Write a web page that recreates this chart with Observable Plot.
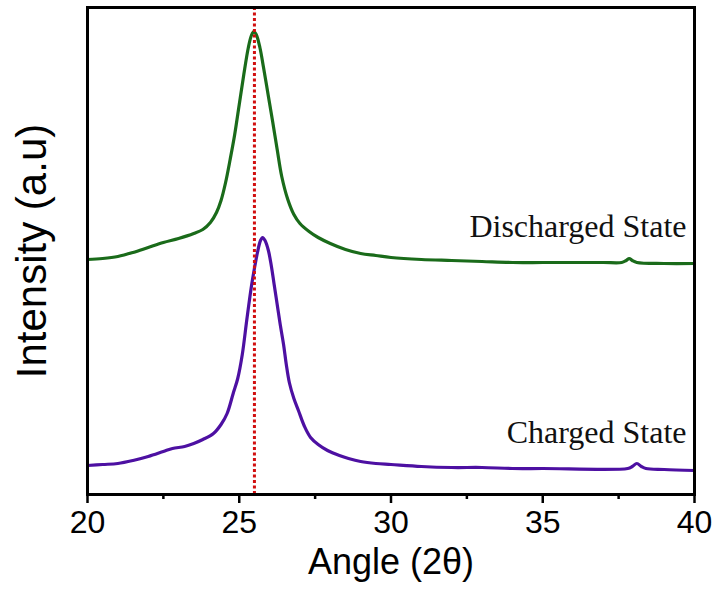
<!DOCTYPE html>
<html>
<head>
<meta charset="utf-8">
<script src="https://cdn.jsdelivr.net/npm/d3@7"></script>
<script src="https://cdn.jsdelivr.net/npm/@observablehq/plot@0.6"></script>
<style>
  html, body { margin: 0; padding: 0; background: #fff; }
  #chart svg { display: block; }
</style>
</head>
<body>
<div id="chart"></div>
<script>
// Discharged state (green), arbitrary intensity units
const dischargedAngle = [20, 20.5, 21, 21.5, 22, 22.5, 23, 23.5, 23.8, 24.05, 24.25, 24.4, 24.55, 24.7, 24.85, 25.0, 25.15, 25.3, 25.4, 25.48, 25.56, 25.68, 25.8, 25.95, 26.1, 26.25, 26.4, 26.6, 26.8, 27.0, 27.3, 27.6, 28.0, 28.5, 29.0, 29.5, 30, 31, 32, 33, 34, 35, 36, 37, 37.6, 37.75, 37.85, 37.95, 38.1, 39, 40];
const dischargedIntensity = [235, 236, 238, 242, 247, 252, 256, 261, 265, 272, 282, 294, 312, 335, 360, 390, 420, 447, 459, 463, 460, 447, 427, 400, 373, 345, 318, 295, 280, 271, 263, 257, 251, 245, 241, 239, 237, 235, 234, 233, 232, 232, 232, 232, 232, 234, 236, 234, 232, 231, 231];

// Charged state (purple)
const chargedAngle = [20, 20.5, 21, 21.5, 22, 22.5, 22.8, 23.2, 23.5, 23.8, 24.15, 24.4, 24.6, 24.8, 24.95, 25.1, 25.25, 25.4, 25.5, 25.6, 25.7, 25.77, 25.85, 25.96, 26.06, 26.15, 26.25, 26.35, 26.46, 26.55, 26.65, 26.8, 26.95, 27.15, 27.35, 27.6, 27.91, 28.3, 28.6, 29.0, 29.5, 30, 31, 32, 33, 34, 35, 37.8, 37.95, 38.1, 38.25, 38.4, 39, 40];
const chargedIntensity = [29, 30, 31, 34, 38, 43, 46, 48, 51, 55, 61, 70, 81, 101, 116, 140, 175, 208, 226, 242, 254, 257, 254, 244, 228, 210, 190, 170, 150, 130, 112, 96, 84, 68, 57, 50, 44, 39, 36, 33, 31, 30, 28, 27, 27, 26, 26, 26, 28, 31, 28, 26, 25, 24];

const referenceAngle = [25.5];
const majorTicks = [20, 25, 30, 35, 40];
const minorTicks = [22.5, 27.5, 32.5, 37.5];
const seriesLabels = ["Discharged State", "Charged State"];
const labelAngle = [40, 40];
const labelIntensity = [268, 62];

const discharged = dischargedAngle.map((a, i) => ({angle: a, intensity: dischargedIntensity[i]}));
const charged = chargedAngle.map((a, i) => ({angle: a, intensity: chargedIntensity[i]}));
const labels = seriesLabels.map((t, i) => ({text: t, angle: labelAngle[i], intensity: labelIntensity[i]}));

const sans = "Liberation Sans, Arial, sans-serif";
const serif = "Liberation Serif, Times New Roman, serif";

const chart = Plot.plot({
  width: 714,
  height: 596,
  marginLeft: 87,
  marginRight: 20,
  marginTop: 7,
  marginBottom: 102,
  style: {background: "#fff", color: "#000", fontFamily: sans},
  x: {domain: [20, 40]},
  y: {domain: [0, 487]},
  marks: [
    Plot.line(discharged, {x: "angle", y: "intensity", stroke: "#1a6b1a", strokeWidth: 3.2, curve: "catmull-rom"}),
    Plot.line(charged, {x: "angle", y: "intensity", stroke: "#4d10a2", strokeWidth: 3.2, curve: "catmull-rom"}),
    Plot.ruleX(referenceAngle, {stroke: "#d10f0f", strokeWidth: 3, strokeDasharray: "3,2.5"}),
    Plot.text(labels, {x: "angle", y: "intensity", text: "text", textAnchor: "end", dx: -8, fontSize: 32, fontFamily: serif, fill: "#111"}),
    Plot.axisX(majorTicks, {tickSize: 9, tickPadding: 7, strokeWidth: 2.5, fontSize: 32, fontFamily: sans, label: null}),
    Plot.axisX(minorTicks, {tickSize: 5, strokeWidth: 2.5, fill: "none", label: null}),
    Plot.axisY([], {tickSize: 0, label: null}),
    Plot.frame({stroke: "#000", strokeWidth: 3}),
    Plot.text(["Angle (2θ)"], {frameAnchor: "bottom", dy: 79, fontSize: 36, fontFamily: sans, fill: "#000"}),
    Plot.text(["Intensity (a.u)"], {frameAnchor: "left", textAnchor: "middle", dx: -55, rotate: -90, fontSize: 42, fontFamily: sans, fill: "#000"})
  ]
});
document.getElementById("chart").appendChild(chart);
</script>
</body>
</html>
